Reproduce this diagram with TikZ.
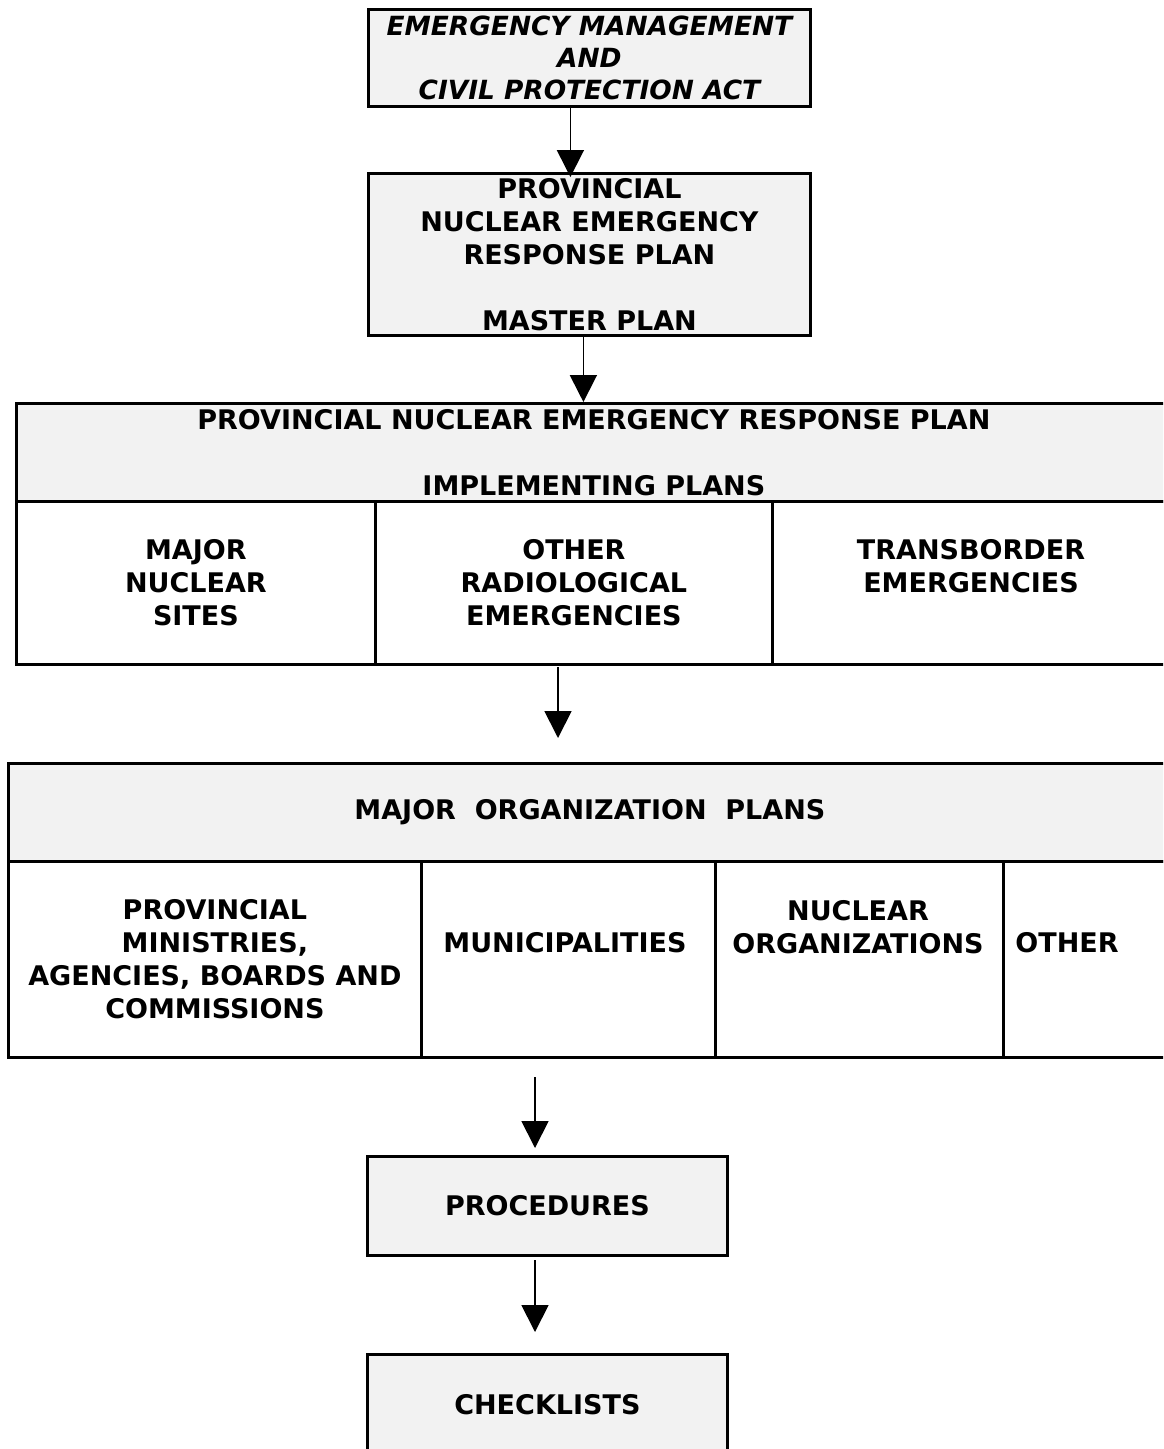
\documentclass[tikz,border=0pt]{standalone}
\usepackage{fontspec}
\setmainfont{DejaVu Sans}
\usetikzlibrary{arrows.meta,calc}
\definecolor{boxgray}{HTML}{F2F2F2}
\begin{document}
\begin{tikzpicture}[x=1pt,y=-1pt,
  txt/.style={font=\bfseries\fontsize{27}{33}\selectfont, align=center},
  cell/.style={draw=black, line width=2.8pt, anchor=north west, inner sep=0pt, txt},
  shaded/.style={cell, fill=boxgray},
  lbl/.style={txt, inner sep=0pt},
  flow/.style={line width=1.8pt, -{Triangle[width=27pt,length=27pt]}}
]
\useasboundingbox (0,0) rectangle (1163,1449);
\clip (0,0) rectangle (1163,1449);

% top boxes
\node[shaded, minimum width=442pt, minimum height=97pt,
      font=\bfseries\itshape\fontsize{26.4}{32}\selectfont] (act) at (367,8)
  {EMERGENCY MANAGEMENT\\AND\\CIVIL PROTECTION ACT};
\node[shaded, minimum width=442pt, minimum height=162pt] (mp) at (367,172)
  {PROVINCIAL\\NUCLEAR EMERGENCY\\RESPONSE PLAN\\[33pt]MASTER PLAN};

% table 1
\node[shaded, minimum width=1155pt, minimum height=98pt] (t1h) at (15,402)
  {PROVINCIAL NUCLEAR EMERGENCY RESPONSE PLAN\\[33pt]IMPLEMENTING PLANS};
\node[cell, minimum width=359pt, minimum height=163pt] (t1a) at (15,500)
  {MAJOR\\NUCLEAR\\SITES};
\node[cell, minimum width=397pt, minimum height=163pt] (t1b) at (374,500)
  {OTHER\\RADIOLOGICAL\\EMERGENCIES};
\node[cell, minimum width=399pt, minimum height=163pt] (t1c) at (771,500) {};
\node[lbl] (t1cl) at (971,566.5) {TRANSBORDER\\EMERGENCIES};

% table 2
\node[shaded, minimum width=1163pt, minimum height=98pt] (t2h) at (7,762)
  {MAJOR\ \ ORGANIZATION\ \ PLANS};
\node[cell, minimum width=413pt, minimum height=196pt] (t2a) at (7,860)
  {PROVINCIAL\\MINISTRIES,\\AGENCIES, BOARDS AND\\COMMISSIONS};
\node[cell, minimum width=294pt, minimum height=196pt] (t2b) at (420,860) {};
\node[cell, minimum width=288pt, minimum height=196pt] (t2c) at (714,860) {};
\node[cell, minimum width=168pt, minimum height=196pt] (t2d) at (1002,860) {};
\node[lbl] (t2bl) at (565,943) {MUNICIPALITIES};
\node[lbl] (t2cl) at (858,927) {NUCLEAR\\ORGANIZATIONS};
\node[lbl] (t2dl) at (1067,943) {OTHER};

% bottom boxes
\node[shaded, minimum width=360pt, minimum height=99pt] (proc) at (366,1155)
  {PROCEDURES};
\node[shaded, minimum width=360pt, minimum height=100pt] (chk) at (366,1353)
  {CHECKLISTS};

% connectors
\draw[flow] ([xshift=-19pt]act.south) -- ([xshift=-19pt,yshift=-5pt]mp.north);
\draw[flow] ([xshift=-6pt]mp.south) -- ([xshift=-6pt]mp.south |- t1h.north);
\coordinate (a3s) at (558,667);
\coordinate (a3e) at (558,738);
\draw[flow] (a3s) -- (a3e);
\coordinate (a4s) at (535,1077);
\coordinate (a4e) at (535,1148);
\draw[flow] (a4s) -- (a4e);
\coordinate (a5s) at (535,1260);
\coordinate (a5e) at (535,1332);
\draw[flow] (a5s) -- (a5e);
\end{tikzpicture}
\end{document}
